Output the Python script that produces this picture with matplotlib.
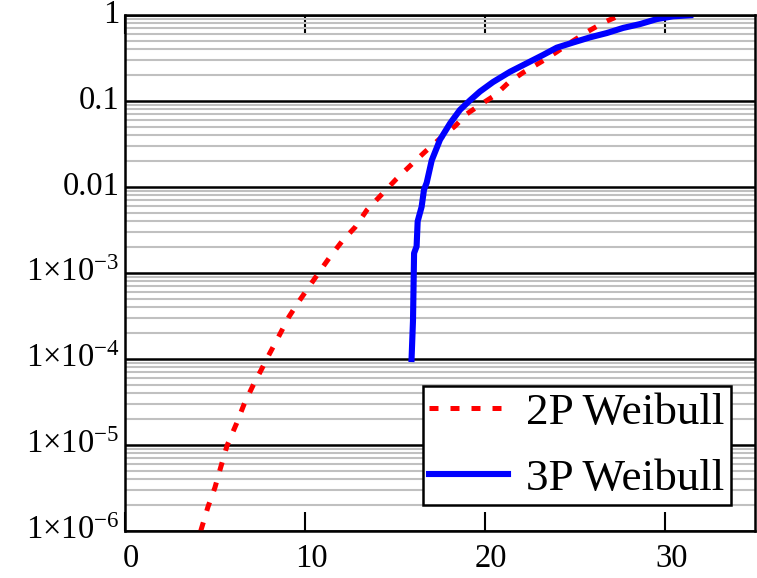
import numpy as np
import matplotlib
matplotlib.use('Agg')
import matplotlib.pyplot as plt
import matplotlib.transforms as mtransforms
from matplotlib.ticker import FixedLocator, FixedFormatter, LogLocator, NullFormatter

plt.rcParams['font.family'] = ['Liberation Serif', 'DejaVu Serif']
plt.rcParams['mathtext.fontset'] = 'custom'
plt.rcParams['mathtext.rm'] = 'Liberation Serif'
plt.rcParams['mathtext.it'] = 'Liberation Serif:italic'
plt.rcParams['mathtext.bf'] = 'Liberation Serif:bold'

# 2P Weibull
x_2p = [4.21, 4.61, 5.00, 5.32, 5.67, 6.21, 6.61, 7.11, 7.56, 8.00,
        8.56, 9.11, 9.67, 10.22, 10.78, 11.33, 12.06, 12.78, 13.44, 14.06,
        15.06, 16.00, 16.67, 17.59, 18.33, 19.00, 19.82, 20.56, 21.28, 22.11,
        23.15, 23.98, 24.82, 25.72, 26.61, 27.39]
F_2p = [1.0e-6, 1.9e-6, 3.2e-6, 5.5e-6, 9.8e-6, 1.8e-5, 2.95e-5, 4.9e-5, 7.4e-5, 1.12e-4,
        1.86e-4, 3.1e-4, 4.7e-4, 6.9e-4, 1.02e-3, 1.48e-3, 2.34e-3, 3.4e-3, 5.4e-3, 7.4e-3,
        0.0123, 0.019, 0.0257, 0.038, 0.051, 0.071, 0.093, 0.117, 0.162, 0.214,
        0.288, 0.372, 0.49, 0.646, 0.822, 0.97]

# 3P Weibull
x_3p = [15.92, 16.00, 16.06, 16.20, 16.26, 16.48, 16.61, 16.76, 17.04, 17.50,
        18.06, 18.61, 19.17, 19.72, 20.44, 21.39, 22.32, 23.22, 23.98, 24.89,
        25.83, 26.76, 27.67, 28.61, 29.54, 30.44, 31.40]
F_3p = [1.0e-4, 2.8e-4, 1.7e-3, 2.04e-3, 4.0e-3, 5.9e-3, 9.3e-3, 0.0112, 0.0204, 0.0355,
        0.055, 0.079, 0.102, 0.129, 0.166, 0.219, 0.275, 0.343, 0.417, 0.479,
        0.55, 0.617, 0.708, 0.785, 0.897, 0.966, 0.993]

xticks = [0, 10, 20, 30]
xtick_labels = ['0', '10', '20', '30']
yticks = [1e-6, 1e-5, 1e-4, 1e-3, 0.01, 0.1, 1]
ytick_labels = [r'$1{\times}10^{-6}$', r'$1{\times}10^{-5}$', r'$1{\times}10^{-4}$',
                r'$1{\times}10^{-3}$', '0.01', '0.1', '1']

fig = plt.figure(figsize=(7.57, 5.78), dpi=100)
ax = fig.add_axes([0.165, 0.0813, 0.8325, 0.8927])
ax.set_axisbelow(True)

ax.plot(x_2p, F_2p, color='red', lw=3.6, linestyle=(0, (1.8, 2.4)),
        dash_capstyle='butt', label='2P Weibull')
ax.plot(x_3p, F_3p, color='blue', lw=4.4, label='3P Weibull')

ax.set_yscale('log')
ax.set_xlim(0, 35)
ax.set_ylim(1e-6, 1)

ax.xaxis.set_major_locator(FixedLocator(xticks))
ax.xaxis.set_major_formatter(FixedFormatter(xtick_labels))
ax.yaxis.set_major_locator(FixedLocator(yticks))
ax.yaxis.set_major_formatter(FixedFormatter(ytick_labels))
ax.yaxis.set_minor_locator(LogLocator(base=10, subs=np.arange(2, 10), numticks=20))
ax.yaxis.set_minor_formatter(NullFormatter())

ax.tick_params(axis='x', which='major', direction='in', length=14, width=1.5,
               top=True, bottom=True, labelsize=23.5, pad=9)
ax.tick_params(axis='y', which='both', length=0, labelsize=23.5, pad=4)

ax.grid(True, which='minor', axis='y', color='#c0c0c0', lw=1.5)
ax.grid(True, which='major', axis='y', color='black', lw=1.8)

for lab in ax.get_yticklabels():
    lab.set_verticalalignment('center')
offset = mtransforms.ScaledTranslation(4.5 / 72, 0, fig.dpi_scale_trans)
for lab in ax.get_xticklabels():
    lab.set_transform(lab.get_transform() + offset)

for spine in ax.spines.values():
    spine.set_linewidth(1.8)
    spine.set_color('black')

leg = ax.legend(loc='lower right', bbox_to_anchor=(0.962, 0.050), borderaxespad=0,
                fontsize=32.5, handlelength=1.75, handletextpad=0.4,
                borderpad=0.14, labelspacing=0.56, fancybox=False, framealpha=1)
leg.get_frame().set_edgecolor('black')
leg.get_frame().set_linewidth(1.8)

fig.savefig('out.png', dpi=100)
